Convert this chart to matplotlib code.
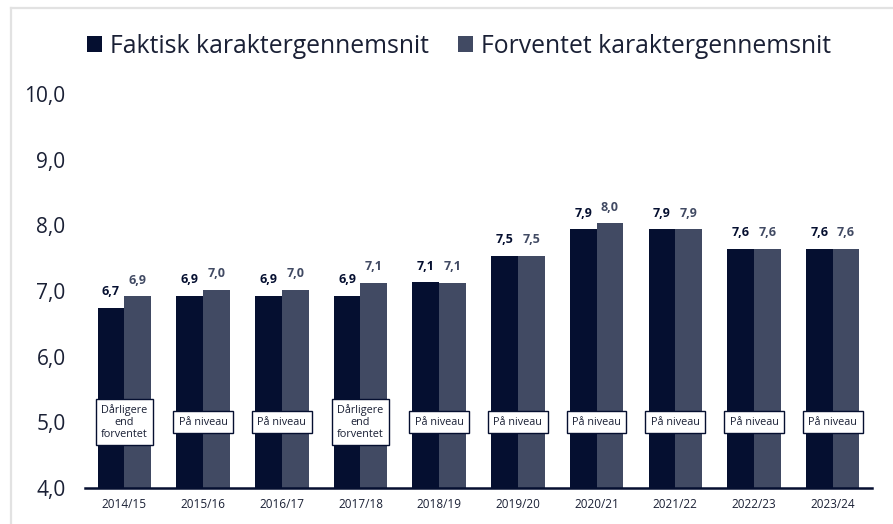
import matplotlib.pyplot as plt
import numpy as np
from matplotlib.lines import Line2D

plt.rcParams['font.family'] = ['Open Sans', 'DejaVu Sans']

# skoleår og karaktergennemsnit
years = ["2014/15", "2015/16", "2016/17", "2017/18", "2018/19",
         "2019/20", "2020/21", "2021/22", "2022/23", "2023/24"]
faktisk = [6.74, 6.93, 6.93, 6.93, 7.13, 7.54, 7.94, 7.94, 7.64, 7.64]
forventet = [6.92, 7.02, 7.02, 7.12, 7.12, 7.53, 8.03, 7.94, 7.64, 7.64]
vurdering = ["Dårligere\nend\nforventet", "På niveau", "På niveau",
             "Dårligere\nend\nforventet", "På niveau", "På niveau",
             "På niveau", "På niveau", "På niveau", "På niveau"]

dark = "#050f30"
grey = "#414a63"
txt = "#1a2035"

fig = plt.figure(figsize=(8.93, 5.24), dpi=100)
ax = fig.add_axes([0.0952, 0.0687, 0.8813, 0.752])

x = np.arange(len(years))
w = 0.34
b1 = ax.bar(x - w / 2, np.array(faktisk) - 4, w, bottom=4, color=dark,
            label="Faktisk karaktergennemsnit")
b2 = ax.bar(x + w / 2, np.array(forventet) - 4, w, bottom=4, color=grey,
            label="Forventet karaktergennemsnit")

for i in range(len(years)):
    ax.annotate(f"{faktisk[i]:.1f}".replace(".", ","), (x[i] - w / 2, faktisk[i]),
                xytext=(0, 7), textcoords="offset points", ha="center", va="bottom",
                fontsize=9, fontweight="bold", color=dark)
    ax.annotate(f"{forventet[i]:.1f}".replace(".", ","), (x[i] + w / 2, forventet[i]),
                xytext=(0, 7), textcoords="offset points", ha="center", va="bottom",
                fontsize=9, fontweight="bold", color=grey)
    ax.text(x[i], 5.0, vurdering[i], ha="center", va="center", fontsize=7.8,
            color=txt, linespacing=1.1,
            bbox=dict(boxstyle="square,pad=0.5", fc="white", ec=dark, lw=1.0))

ax.set_xlim(-0.5, len(years) - 0.5)
ax.set_ylim(4, 10)
ax.set_yticks(np.arange(4, 10.5, 1))
ax.set_yticklabels([f"{v:.1f}".replace(".", ",") for v in np.arange(4, 10.5, 1)],
                   fontsize=15, color=txt)
ax.set_xticks(x)
ax.set_xticklabels(years, fontsize=8.5, color=txt)
ax.tick_params(axis="y", length=0, pad=14)
ax.tick_params(axis="x", length=0, pad=7)
for s in ["top", "right", "left"]:
    ax.spines[s].set_visible(False)
ax.spines["bottom"].set_color(dark)
ax.spines["bottom"].set_linewidth(1.8)

fig.legend(handles=[b1, b2], loc="center", bbox_to_anchor=(0.514, 0.912), ncol=2,
           frameon=False, fontsize=17.8, handlelength=0.6, handleheight=0.6,
           handletextpad=0.3, columnspacing=1.2, labelcolor=txt)

# lys ramme
fig.add_artist(Line2D([0.0118, 0.0118], [0, 0.985], color="#e2e2e2", lw=1.6))
fig.add_artist(Line2D([0.0118, 1], [0.985, 0.985], color="#e2e2e2", lw=1.6))

fig.savefig("out.png", dpi=100)
